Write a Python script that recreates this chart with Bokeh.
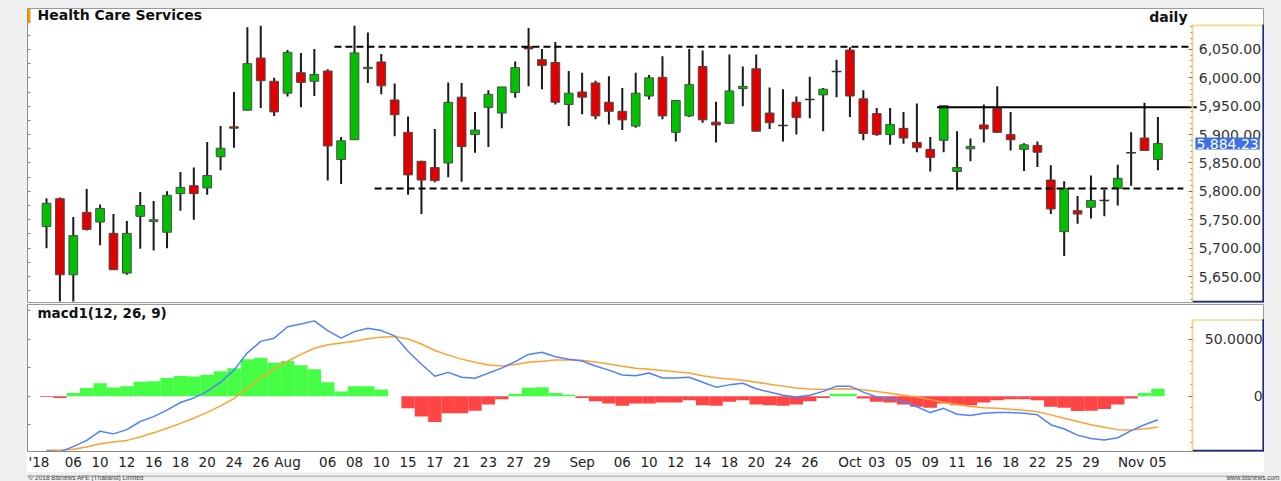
from bokeh.plotting import figure
from bokeh.models import (ColumnDataSource, Range1d, LinearAxis, FixedTicker,
                          NumeralTickFormatter, Label, BoxAnnotation)
from bokeh.layouts import column
from bokeh.embed import file_html
from bokeh.resources import INLINE

# ---------------- data ----------------
dates = [
    "2018-07-04", "2018-07-05", "2018-07-06", "2018-07-09", "2018-07-10", "2018-07-11",
    "2018-07-12", "2018-07-13", "2018-07-16", "2018-07-17", "2018-07-18", "2018-07-19",
    "2018-07-20", "2018-07-23", "2018-07-24", "2018-07-25", "2018-07-26", "2018-07-31",
    "2018-08-01", "2018-08-02", "2018-08-03", "2018-08-06", "2018-08-07", "2018-08-08",
    "2018-08-09", "2018-08-10", "2018-08-14", "2018-08-15", "2018-08-16", "2018-08-17",
    "2018-08-20", "2018-08-21", "2018-08-22", "2018-08-23", "2018-08-24", "2018-08-27",
    "2018-08-28", "2018-08-29", "2018-08-30", "2018-08-31", "2018-09-03", "2018-09-04",
    "2018-09-05", "2018-09-06", "2018-09-07", "2018-09-10", "2018-09-11", "2018-09-12",
    "2018-09-13", "2018-09-14", "2018-09-17", "2018-09-18", "2018-09-19", "2018-09-20",
    "2018-09-21", "2018-09-24", "2018-09-25", "2018-09-26", "2018-09-27", "2018-09-28",
    "2018-10-01", "2018-10-02", "2018-10-03", "2018-10-04", "2018-10-05", "2018-10-08",
    "2018-10-09", "2018-10-10", "2018-10-11", "2018-10-12", "2018-10-16", "2018-10-17",
    "2018-10-18", "2018-10-19", "2018-10-22", "2018-10-24", "2018-10-25", "2018-10-26",
    "2018-10-29", "2018-10-30", "2018-10-31", "2018-11-01", "2018-11-02", "2018-11-05",
]
opens = [5738, 5787, 5653, 5763, 5746, 5726, 5656, 5756, 5747, 5728, 5796, 5810, 5806, 5861,
         5913, 5943, 6035, 5994, 5973, 6009, 5994, 6012, 5856, 5891, 6017, 6028, 5961, 5904,
         5853, 5842, 5850, 5966, 5900, 5948, 5938, 5974, 6055, 6032, 6027, 5953, 5975, 5991,
         5957, 5941, 5915, 5968, 6001, 5904, 5933, 6020, 5922, 5920, 5981, 6016, 5938, 5916,
         5957, 5962, 5970, 6011, 6049, 5963, 5937, 5900, 5911, 5886, 5874, 5890, 5835, 5875,
         5917, 5946, 5900, 5874, 5881, 5820, 5729, 5766, 5772, 5784, 5805, 5868, 5894, 5856]
highs = [5788, 5789, 5755, 5804, 5777, 5760, 5748, 5799, 5783, 5800, 5834, 5842, 5887, 5915,
         5975, 6089, 6092, 6000, 6049, 6044, 6051, 6015, 5896, 6092, 6080, 6042, 5990, 5932,
         5854, 5910, 5992, 5991, 5940, 5978, 5984, 6029, 6088, 6051, 6063, 6012, 6009, 5995,
         6003, 5982, 6009, 6005, 6038, 5960, 6051, 6048, 5958, 6041, 6020, 6041, 5983, 5980,
         5967, 6002, 5982, 6032, 6054, 5978, 5947, 5947, 5940, 5955, 5896, 5951, 5906, 5893,
         5953, 5985, 5940, 5885, 5888, 5846, 5818, 5792, 5828, 5803, 5847, 5904, 5956, 5931]
lows = [5700, 5606, 5606, 5731, 5705, 5662, 5653, 5699, 5696, 5700, 5766, 5750, 5794, 5837,
        5877, 5943, 5947, 5933, 5967, 5948, 5968, 5819, 5813, 5891, 5991, 5971, 5897, 5794,
        5760, 5816, 5825, 5817, 5868, 5878, 5911, 5965, 5985, 5980, 5953, 5915, 5936, 5927,
        5918, 5908, 5912, 5962, 5927, 5888, 5931, 5921, 5886, 5920, 5950, 5906, 5910, 5888,
        5900, 5929, 5906, 5966, 5931, 5890, 5898, 5882, 5884, 5869, 5835, 5869, 5802, 5853,
        5886, 5903, 5872, 5836, 5843, 5760, 5686, 5743, 5752, 5756, 5775, 5810, 5872, 5837]
closes = [5779, 5653, 5722, 5733, 5770, 5662, 5726, 5775, 5750, 5793, 5807, 5796, 5828, 5876,
          5912, 6025, 5995, 5940, 6045, 5992, 6006, 5880, 5889, 6044, 6018, 5986, 5935, 5829,
          5820, 5819, 5957, 5879, 5908, 5971, 5984, 6018, 6051, 6022, 5957, 5973, 5966, 5933,
          5941, 5926, 5973, 6000, 5933, 5960, 5988, 5926, 5917, 5977, 5985, 5906, 5921, 5916,
          5930, 5962, 5980, 6011, 5968, 5902, 5900, 5918, 5894, 5877, 5860, 5951, 5842, 5879,
          5910, 5904, 5891, 5882, 5869, 5769, 5805, 5760, 5784, 5784, 5823, 5868, 5872, 5884.23]

macd_line = [-47.6, -48.5, -43.9, -38.5, -30.5, -32.8, -29.1, -22.0, -17.7, -12.0,
             -5.4, -1.4, 4.3, 12.3, 22.9, 38.0, 48.0, 50.8, 60.8, 63.1,
             65.9, 57.4, 50.8, 56.5, 59.4, 57.4, 52.8, 39.4, 28.0, 17.5,
             20.9, 16.6, 15.8, 20.3, 24.6, 30.3, 36.6, 38.5, 34.6, 32.3,
             30.8, 26.5, 22.9, 18.6, 18.0, 20.3, 16.0, 16.0, 16.6, 12.3,
             8.0, 10.0, 11.4, 6.6, 3.7, 0.9, -0.6, 0.9, 4.3, 8.9,
             8.9, 3.7, -0.6, -2.0, -4.8, -9.1, -14.2, -10.5, -15.7, -16.8,
             -14.8, -14.2, -14.2, -14.8, -16.2, -24.8, -28.5, -33.9, -36.8, -38.2,
             -36.2, -30.0, -24.8, -20.5]
signal_line = [-47.1, -47.1, -46.2, -44.2, -41.4, -39.9, -38.5, -35.6, -31.9, -27.9,
               -23.6, -19.1, -14.0, -8.3, -2.0, 7.2, 16.0, 23.7, 30.6, 36.6,
               42.0, 45.1, 46.6, 48.0, 50.3, 51.7, 52.2, 50.0, 45.7, 40.0,
               36.0, 32.5, 29.7, 27.4, 26.5, 27.7, 29.7, 30.6, 31.7, 31.7,
               31.4, 30.0, 28.3, 26.3, 24.6, 23.7, 22.6, 21.4, 20.3, 18.0,
               16.3, 15.2, 14.0, 12.3, 10.6, 8.9, 7.2, 6.3, 6.0, 6.3,
               6.6, 5.7, 4.3, 2.6, 0.9, -0.6, -2.9, -5.4, -7.1, -8.8,
               -10.0, -10.5, -11.4, -12.2, -13.4, -16.2, -19.1, -22.0, -24.8, -27.1,
               -29.1, -29.4, -28.3, -27.1]
histogram = [-0.5, -1.5, 2.9, 7.2, 11.4, 7.7, 8.9, 12.8, 13.1, 16.0,
             17.7, 17.4, 18.8, 22.0, 24.6, 32.3, 33.7, 29.4, 30.8, 27.1,
             23.7, 12.3, 4.3, 8.9, 8.9, 6.0, 0.0, -10.5, -17.7, -22.5,
             -14.8, -14.8, -12.5, -7.1, -2.5, 2.3, 7.4, 8.0, 2.9, 1.4,
             -1.4, -4.3, -6.3, -8.3, -6.3, -6.3, -5.4, -5.4, -3.4, -7.7,
             -8.3, -4.8, -3.4, -7.1, -7.7, -8.3, -7.1, -4.3, -1.4, 2.3,
             2.3, -2.0, -4.8, -5.4, -7.1, -9.1, -10.0, -6.3, -7.7, -7.7,
             -5.4, -3.4, -2.5, -2.5, -3.4, -9.1, -10.0, -12.8, -12.5, -11.1,
             -7.1, -2.0, 2.9, 6.6]

tick_dates = ["2018-07-06", "2018-07-10", "2018-07-12", "2018-07-16", "2018-07-18",
              "2018-07-20", "2018-07-24", "2018-07-26", "2018-08-01", "2018-08-06",
              "2018-08-08", "2018-08-10", "2018-08-15", "2018-08-17", "2018-08-21",
              "2018-08-23", "2018-08-27", "2018-08-29", "2018-09-03", "2018-09-06",
              "2018-09-10", "2018-09-12", "2018-09-14", "2018-09-18", "2018-09-20",
              "2018-09-24", "2018-09-26", "2018-10-01", "2018-10-03", "2018-10-05",
              "2018-10-09", "2018-10-11", "2018-10-16", "2018-10-18", "2018-10-22",
              "2018-10-25", "2018-10-29", "2018-11-01", "2018-11-05"]
tick_labels = ["06", "10", "12", "16", "18", "20", "24", "26", "Aug", "06", "08", "10",
               "15", "17", "21", "23", "27", "29", "Sep", "06", "10", "12", "14", "18",
               "20", "24", "26", "Oct", "03", "05", "09", "11", "16", "18", "22", "25",
               "29", "Nov", "05"]
year_label = "'18"

price_ticks = [5650, 5700, 5750, 5800, 5850, 5900, 5950, 6000, 6050]
macd_ticks = [0, 50]

# horizontal level lines: value, first date, dashed?
level_values = [6055, 5805, 5948]
level_start_dates = ["2018-08-07", "2018-08-10", "2018-10-10"]
level_dashed = [True, True, False]

last_price = 5884.23

# ---------------- geometry / styles ----------------
n = len(dates)
xi = list(range(n))
pos = {d: i for i, d in enumerate(dates)}
XS, XE = -1.42, 90.96          # frame spans the axis box too
AX = 85.6                      # x of the right-hand axis box
PY0, PY1 = 5604.2, 6122.2
MY0, MY1 = -48.2, 80.2
GREEN, RED = "#00c000", "#e00000"
YELLOW, NAVY = "#f2d98e", "#1c2a80"
FONT = "DejaVu Sans"


def try_set(obj, **kw):
    for k, v in kw.items():
        try:
            setattr(obj, k, v)
        except Exception:
            pass


# ---------------- price panel ----------------
p1 = figure(width=1238, height=295, x_range=Range1d(XS, XE), y_range=Range1d(PY0, PY1),
            x_axis_type=None, y_axis_type=None, toolbar_location=None,
            output_backend="svg", min_border_left=1, min_border_right=0,
            min_border_top=0, min_border_bottom=1, background_fill_color="white",
            border_fill_color="white", outline_line_color="#9a9a9a")
p1.margin = (8, 17, 0, 26)

doji_x, doji_y = [], []
bx, btop, bbot, bcol = [], [], [], []
for i, (o, c) in enumerate(zip(opens, closes)):
    if o == c:
        doji_x.append(i)
        doji_y.append(o)
        continue
    t, b = max(o, c), min(o, c)
    if t - b < 2.5:
        m = (t + b) / 2
        t, b = m + 1.25, m - 1.25
    bx.append(i)
    btop.append(t)
    bbot.append(b)
    bcol.append(GREEN if c > o else RED)

wick_src = ColumnDataSource(dict(x=xi, lo=lows, hi=highs))
p1.segment(x0="x", y0="lo", x1="x", y1="hi", source=wick_src, line_color="#1a1a1a",
           line_width=2)
body_src = ColumnDataSource(dict(x=bx, top=btop, bot=bbot, col=bcol))
p1.vbar(x="x", width=0.65, top="top", bottom="bot", source=body_src, fill_color="col",
        line_color="#4a4a4a", line_width=1)
doji_src = ColumnDataSource(dict(x0=[x - 0.36 for x in doji_x], x1=[x + 0.36 for x in doji_x],
                                 y=doji_y))
p1.segment(x0="x0", y0="y", x1="x1", y1="y", source=doji_src, line_color="#333333",
           line_width=1.5)

level_ends = [n - 1 + 2.6, n - 1 + 1.9, n - 1 + 2.9]
for v, d, dashed, xend in zip(level_values, level_start_dates, level_dashed, level_ends):
    p1.segment(x0=[pos[d] - 0.5], y0=[v], x1=[xend], y1=[v], line_color="black",
               line_width=2, line_dash="7 4" if dashed else "solid")

# axis box decoration (inside the extended frame)
p1.add_layout(BoxAnnotation(left=AX, right=XE, top=6094.0, bottom=6091.0,
                            fill_color=YELLOW, fill_alpha=1, line_color=None))
p1.add_layout(BoxAnnotation(left=XE - 0.16, right=XE, top=6094.0, bottom=PY0,
                            fill_color=NAVY, fill_alpha=1, line_color=None))
p1.add_layout(BoxAnnotation(left=AX, right=XE, top=PY0 + 3.0, bottom=PY0,
                            fill_color=NAVY, fill_alpha=1, line_color=None))

ra = LinearAxis(ticker=FixedTicker(ticks=price_ticks,
                                   minor_ticks=[t for t in range(5610, 6100, 10) if t % 50]),
                formatter=NumeralTickFormatter(format="0,0.00"),
                bounds=(PY0, 6094.0), axis_line_color=YELLOW, axis_line_width=2,
                major_tick_in=4, major_tick_out=0, minor_tick_in=2, minor_tick_out=0,
                major_tick_line_color="#777777", minor_tick_line_color="#999999",
                major_label_standoff=6, major_label_text_font=FONT,
                major_label_text_font_size="14px", major_label_text_color="#333333",
                fixed_location=AX)
p1.add_layout(ra, "right")

left_ticks1 = list(range(5625, 6125, 25))
la = LinearAxis(ticker=FixedTicker(ticks=left_ticks1),
                major_label_overrides={t: "" for t in left_ticks1},
                major_tick_in=3, major_tick_out=0, major_label_standoff=0,
                axis_line_color="#8a8a8a", major_tick_line_color="#888888")
p1.add_layout(la, "left")

p1.add_layout(BoxAnnotation(left=XS, right=-1.2, bottom=6096, top=PY1, fill_color="#ff9900",
                            fill_alpha=1, line_color=None))
p1.add_layout(Label(x=-0.67, y=6109.9, text="Health Care Services", text_font=FONT,
                    text_font_style="bold", text_font_size="14px", text_color="#111111",
                    text_baseline="middle"))
p1.add_layout(Label(x=85.21, y=6108.0, text="daily", text_font=FONT, text_font_style="bold",
                    text_font_size="14px", text_color="#111111", text_baseline="middle",
                    text_align="right"))
tag = Label(x=85.8, y=last_price, text=f"{last_price:,.2f}", text_font=FONT,
            text_font_size="14px", text_color="white", text_baseline="middle",
            background_fill_color="#3f6fe6", background_fill_alpha=1)
try_set(tag, padding=1)
p1.add_layout(tag)

# ---------------- MACD panel ----------------
p2 = figure(width=1238, height=169, x_range=p1.x_range, y_range=Range1d(MY0, MY1),
            x_axis_type=None, y_axis_type=None, toolbar_location=None,
            output_backend="svg", min_border_left=1, min_border_right=0,
            min_border_top=1, min_border_bottom=16, background_fill_color="white",
            border_fill_color="white", outline_line_color="#9a9a9a")
p2.margin = (0, 17, 0, 26)

hcol = ["#44ff44" if h >= 0 else "#ff4444" for h in histogram]
hist_src = ColumnDataSource(dict(x=xi, top=histogram, col=hcol))
p2.vbar(x="x", width=1.0, top="top", bottom=0, source=hist_src, fill_color="col",
        line_color=None)
p2.line(xi, signal_line, line_color="#ffa030", line_width=1.5)
p2.line(xi, macd_line, line_color="#5080ff", line_width=1.5)

p2.add_layout(BoxAnnotation(left=AX, right=XE, top=67.4, bottom=66.0,
                            fill_color=YELLOW, fill_alpha=1, line_color=None))
p2.add_layout(BoxAnnotation(left=XE - 0.16, right=XE, top=67.4, bottom=MY0,
                            fill_color=NAVY, fill_alpha=1, line_color=None))
p2.add_layout(BoxAnnotation(left=AX, right=XE, top=MY0 + 1.5, bottom=MY0,
                            fill_color=NAVY, fill_alpha=1, line_color=None))

tick_pos = [-0.57] + [pos[d] for d in tick_dates]
tick_txt = [year_label] + tick_labels
xa = LinearAxis(ticker=FixedTicker(ticks=tick_pos),
                major_label_overrides=dict(zip(tick_pos, tick_txt)),
                major_tick_in=0, major_tick_out=0, major_label_standoff=2,
                axis_line_color="#8a8a8a", major_label_text_font=FONT,
                major_label_text_font_size="13.5px", major_label_text_color="#222222")
p2.add_layout(xa, "below")

ra2 = LinearAxis(ticker=FixedTicker(ticks=macd_ticks,
                                    minor_ticks=[-40, -30, -20, -10, 10, 20, 30, 40, 60]),
                 major_label_overrides={0: "\u00a0" * 11 + "0", 50: "50.0000"},
                 bounds=(MY0, 67.4), axis_line_color=YELLOW, axis_line_width=2,
                 major_tick_in=4, major_tick_out=0, minor_tick_in=2, minor_tick_out=0,
                 major_tick_line_color="#777777", minor_tick_line_color="#999999",
                 major_label_standoff=12, major_label_text_font=FONT,
                 major_label_text_font_size="14px", major_label_text_color="#333333",
                 fixed_location=AX)
p2.add_layout(ra2, "right")

left_ticks2 = [-25, 0, 25, 50, 75]
la2 = LinearAxis(ticker=FixedTicker(ticks=left_ticks2),
                 major_label_overrides={t: "" for t in left_ticks2},
                 major_tick_in=3, major_tick_out=0, major_label_standoff=0,
                 axis_line_color="#8a8a8a", major_tick_line_color="#888888")
p2.add_layout(la2, "left")

p2.add_layout(Label(x=-0.67, y=72.8, text="macd1(12, 26, 9)", text_font=FONT,
                    text_font_style="bold", text_font_size="13.5px", text_color="#111111",
                    text_baseline="middle"))

# ---------------- footer ----------------
p3 = figure(width=1281, height=9, x_range=Range1d(0, 1281), y_range=Range1d(0, 9),
            x_axis_type=None, y_axis_type=None, toolbar_location=None,
            output_backend="svg", min_border_left=0, min_border_right=0,
            min_border_top=0, min_border_bottom=0, background_fill_color="#f0f0f0",
            border_fill_color="#f0f0f0", outline_line_color=None)
p3.segment(x0=[26], y0=[8.5], x1=[1264], y1=[8.5], line_color="#8a8a8a", line_width=1)
p3.add_layout(Label(x=27, y=6.6, text="\u00a9 2018 Bisnews AFE (Thailand) Limited",
                    text_font="Liberation Sans", text_font_size="6.5px", text_color="#444444",
                    text_baseline="middle"))
p3.add_layout(Label(x=1279, y=6.6, text="www.bisnews.com", text_font="Liberation Sans",
                    text_font_size="6.5px", text_color="#444444", text_baseline="middle",
                    text_align="right"))

root = column(p1, p2, p3, styles={"background-color": "#f0f0f0"}, spacing=0)
open("out.html", "w").write(file_html(root, INLINE))
